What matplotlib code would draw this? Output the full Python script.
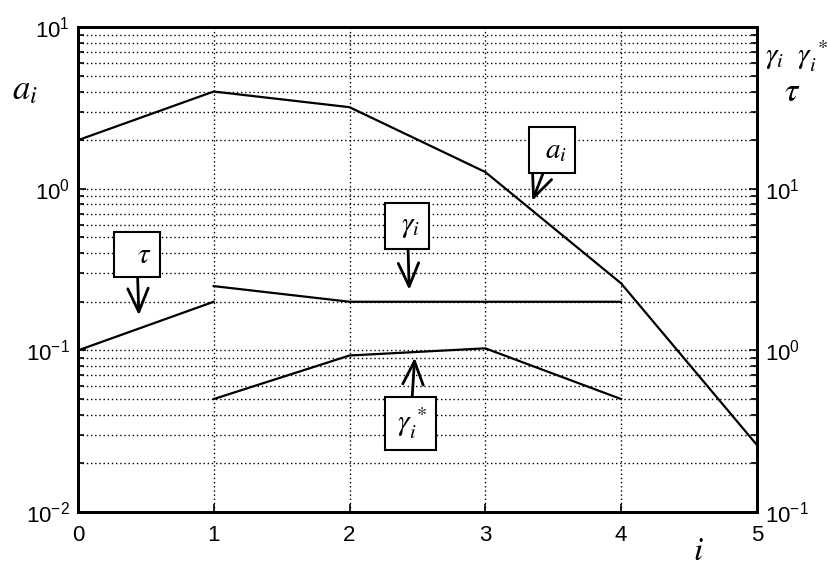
import numpy as np
import matplotlib
matplotlib.use("Agg")
import matplotlib.pyplot as plt
from matplotlib.ticker import LogLocator, NullFormatter, FixedLocator, FuncFormatter

plt.rcParams['font.family'] = ['Liberation Sans', 'DejaVu Sans']
plt.rcParams['mathtext.fontset'] = 'stix'

# Stage index
i_all = [0, 1, 2, 3, 4, 5]
a_vals = [2.0, 4.0, 3.2, 1.27, 0.26, 0.026]

# Right-axis quantities
tau_i = [0, 1]
tau_vals = [1.0, 2.0]
gamma_i = [1, 2, 3, 4]
gamma_vals = [2.5, 2.0, 2.0, 2.0]
gstar_i = [1, 2, 3, 4]
gstar_vals = [0.5, 0.93, 1.03, 0.5]

x_ticks = [0, 1, 2, 3, 4, 5]
right_labelled = [1e-1, 1e0, 1e1]

fig = plt.figure(figsize=(8.29, 5.67), dpi=100)
ax = fig.add_axes([0.094, 0.097, 0.819, 0.855])
ax2 = ax.twinx()

lw = 1.6
ax.plot(i_all, a_vals, color='black', lw=lw)
ax2.plot(tau_i, tau_vals, color='black', lw=lw)
ax2.plot(gamma_i, gamma_vals, color='black', lw=lw)
ax2.plot(gstar_i, gstar_vals, color='black', lw=lw)

ax.set_xlim(0, 5)
ax.set_yscale('log')
ax.set_ylim(1e-2, 1e1)
ax2.set_yscale('log')
ax2.set_ylim(1e-1, 1e2)

ax.xaxis.set_major_locator(FixedLocator(x_ticks))
ax.set_xticklabels([str(v) for v in x_ticks])


def pow_label(v, pos):
    e = int(round(np.log10(v)))
    return r'$\mathdefault{10^{%d}}$' % e


def pow_label_right(v, pos):
    if any(abs(v - r) / r < 1e-6 for r in right_labelled):
        return pow_label(v, pos)
    return ''


for a in (ax, ax2):
    a.yaxis.set_major_locator(LogLocator(base=10, numticks=10))
    a.yaxis.set_minor_locator(LogLocator(base=10, subs=np.arange(2, 10), numticks=20))
    a.yaxis.set_minor_formatter(NullFormatter())
    a.tick_params(which='both', direction='in', labelsize=16, width=1.2)
    a.tick_params(which='major', length=6)
    a.tick_params(which='minor', length=4)
    for s in a.spines.values():
        s.set_linewidth(2)

ax.yaxis.set_major_formatter(FuncFormatter(pow_label))
ax2.yaxis.set_major_formatter(FuncFormatter(pow_label_right))

ax.tick_params(axis='x', pad=9)
ax.tick_params(axis='y', pad=6)
ax2.tick_params(axis='y', pad=6)

ax.grid(True, which='major', axis='x', color='black', linestyle=(0, (1, 2)), lw=1)
ax.grid(True, which='both', axis='y', color='black', linestyle=(0, (1, 2)), lw=1)
ax.set_axisbelow(True)

# Axis captions
fig.text(0.030, 0.842, r'$a_i$', fontsize=25, ha='center', va='center')
fig.text(0.961, 0.900, r'$\gamma_i\ \ \gamma_i^{\,*}$', fontsize=21, ha='center', va='center')
fig.text(0.955, 0.837, r'$\tau$', fontsize=24, ha='center', va='center')
fig.text(0.843, 0.028, r'$i$', fontsize=24, ha='center', va='center')

# Callout boxes with arrows
box = dict(boxstyle='square,pad=0.3', fc='white', ec='black', lw=1.5)
arrow = dict(arrowstyle='->,head_length=0.8,head_width=0.35', color='black', lw=2,
             shrinkA=0, shrinkB=0)

ax.annotate(r'$\ \ \tau\,$', xy=(0.449, 0.165), xytext=(0.434, 0.391),
            fontsize=21, ha='center', va='center', bbox=box, arrowprops=arrow)
ax.annotate(r'$\ \gamma_i\,$', xy=(2.44, 0.237), xytext=(2.426, 0.59),
            fontsize=21, ha='center', va='center', bbox=box, arrowprops=arrow)
ax.annotate(r'$\,\gamma_i^{\,*}\,$', xy=(2.48, 0.0901), xytext=(2.449, 0.0352),
            fontsize=21, ha='center', va='center', bbox=box, arrowprops=arrow)
ax.annotate(r'$\ a_i\,$', xy=(3.346, 0.843), xytext=(3.493, 1.74),
            fontsize=21, ha='center', va='center', bbox=box, arrowprops=arrow)

fig.savefig('out.png', dpi=100)
